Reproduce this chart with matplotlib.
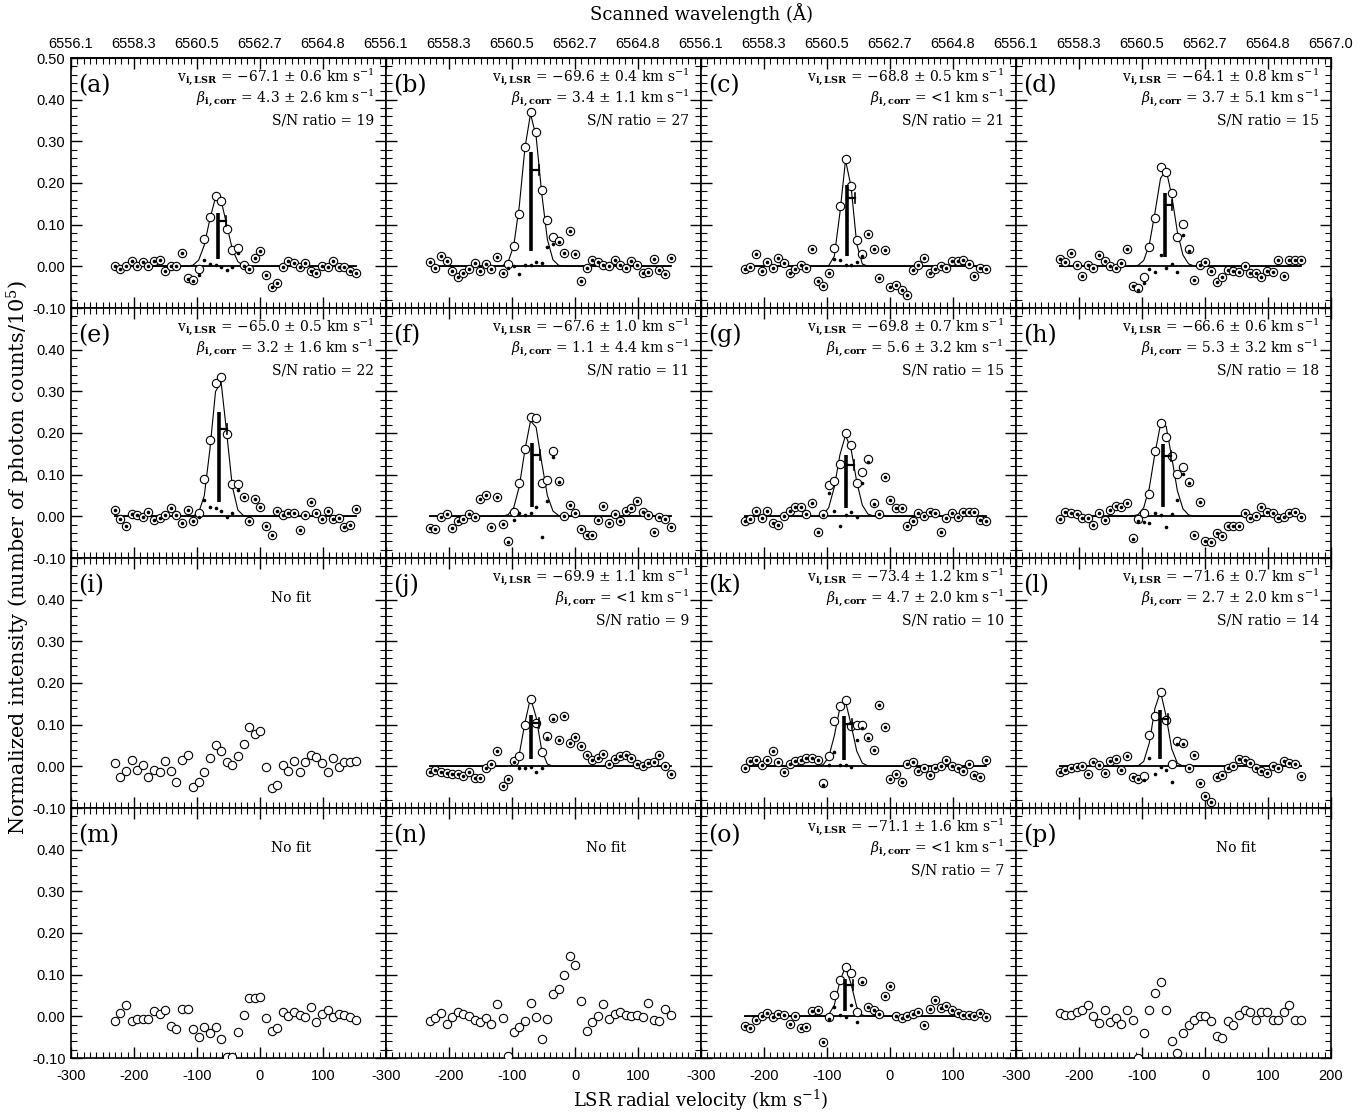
import numpy as np
import matplotlib.pyplot as plt
from matplotlib.ticker import MultipleLocator

plt.rcParams['font.family'] = 'Liberation Sans'
plt.rcParams['mathtext.fontset'] = 'dejavuserif'
plt.rcParams['axes.unicode_minus'] = False
plt.rcParams['axes.linewidth'] = 1.2
SERIF = 'DejaVu Serif'

# LSR velocity of each scan channel (km/s)
vel = np.array([-230.6, -221.7, -212.8, -203.9, -195.0, -186.2, -177.3, -168.4, -159.5, -150.6,
                -141.7, -132.8, -123.9, -115.0, -106.1, -97.3, -88.4, -79.5, -70.6, -61.7,
                -52.8, -43.9, -35.0, -26.1, -17.2, -8.4, 0.5, 9.4, 18.3, 27.2,
                36.1, 45.0, 53.9, 62.8, 71.7, 80.5, 89.4, 98.3, 107.2, 116.1,
                125.0, 133.9, 142.8, 151.7])

# normalized intensity per channel, one list per pointing
flux_a = [0.000, -0.006, 0.000, 0.014, 0.000, 0.011, 0.002, 0.014, 0.015, -0.010,
          0.000, 0.000, 0.031, -0.029, -0.033, -0.006, 0.066, 0.118, 0.168, 0.156,
          0.090, 0.040, 0.044, 0.003, -0.006, 0.019, 0.038, -0.020, -0.050, -0.040,
          -0.002, 0.012, 0.008, -0.002, 0.008, -0.010, -0.017, 0.002, -0.002, 0.014,
          -0.002, -0.002, -0.012, -0.017]
flux_b = [0.010, -0.003, 0.026, 0.014, -0.011, -0.026, -0.015, -0.006, 0.008, -0.012,
          0.006, -0.006, 0.022, -0.015, 0.006, 0.049, 0.126, 0.287, 0.370, 0.322,
          0.184, 0.112, 0.070, 0.062, 0.032, 0.084, 0.029, -0.034, -0.004, 0.015,
          0.010, 0.004, 0.002, 0.015, 0.004, -0.004, 0.014, 0.004, -0.016, -0.013,
          0.018, -0.009, -0.018, 0.020]
flux_c = [-0.006, -0.001, 0.030, -0.012, 0.011, -0.003, 0.019, 0.008, -0.015, -0.006,
          0.004, -0.004, 0.041, -0.034, -0.047, -0.015, 0.043, 0.144, 0.258, 0.194,
          0.064, 0.030, 0.077, 0.042, -0.029, 0.040, -0.049, -0.044, -0.057, -0.068,
          -0.009, 0.004, 0.019, -0.017, -0.006, 0.000, -0.004, 0.012, 0.014, 0.015,
          0.005, -0.023, -0.004, -0.006]
flux_d = [0.018, 0.010, 0.033, 0.004, -0.023, 0.003, -0.003, 0.027, 0.014, 0.000,
          -0.004, 0.007, 0.042, -0.046, -0.053, -0.025, 0.046, 0.115, 0.239, 0.227,
          0.176, 0.070, 0.102, 0.042, -0.033, 0.003, 0.010, -0.012, -0.038, -0.026,
          -0.008, -0.012, -0.013, 0.002, -0.016, -0.016, -0.026, -0.011, -0.013, 0.016,
          -0.022, 0.015, 0.015, 0.015]
flux_e = [0.016, -0.006, -0.022, 0.006, 0.003, -0.002, 0.011, -0.008, -0.004, 0.004,
          0.019, 0.004, -0.016, 0.016, -0.010, 0.008, 0.090, 0.184, 0.320, 0.335,
          0.198, 0.078, 0.078, 0.047, -0.010, 0.042, 0.022, -0.024, -0.044, 0.014,
          0.004, 0.008, 0.008, -0.032, 0.004, 0.035, 0.008, -0.006, 0.012, -0.006,
          -0.005, -0.026, -0.020, 0.018]
flux_f = [-0.028, -0.031, -0.001, 0.006, -0.027, -0.012, -0.007, 0.005, -0.001, 0.041,
          0.051, -0.025, 0.046, -0.018, -0.058, 0.011, 0.079, 0.162, 0.238, 0.235,
          0.079, 0.088, 0.156, 0.085, 0.000, 0.027, 0.009, -0.030, -0.045, -0.045,
          -0.008, 0.026, -0.016, 0.006, -0.010, 0.014, 0.020, 0.037, 0.010, 0.004,
          -0.037, -0.002, -0.006, -0.025]
flux_g = [-0.012, -0.007, 0.014, -0.003, 0.013, -0.015, -0.021, 0.000, 0.012, 0.022,
          0.022, 0.006, 0.033, -0.037, 0.006, 0.076, 0.084, 0.125, 0.199, 0.172,
          0.081, 0.106, 0.137, 0.031, 0.006, 0.094, 0.039, 0.019, 0.019, -0.022,
          -0.010, 0.008, 0.002, 0.010, 0.008, -0.037, -0.004, 0.007, -0.002, 0.010,
          0.011, 0.010, -0.008, -0.011]
flux_h = [-0.006, 0.010, 0.009, 0.006, -0.005, -0.003, -0.020, 0.008, -0.009, 0.016,
          0.025, 0.022, 0.032, -0.053, -0.007, 0.007, 0.053, 0.158, 0.224, 0.190,
          0.146, 0.102, 0.119, 0.083, -0.044, 0.035, -0.058, -0.061, -0.040, -0.046,
          -0.022, -0.022, -0.022, 0.008, -0.005, 0.000, 0.022, 0.010, 0.008, -0.004,
          -0.002, 0.008, 0.010, -0.002]
flux_i = [0.008, -0.026, -0.010, 0.016, -0.009, 0.003, -0.025, -0.009, -0.014, 0.014,
          -0.010, -0.038, 0.016, 0.027, -0.050, -0.038, -0.014, 0.020, 0.051, 0.038,
          0.010, 0.004, 0.024, 0.054, 0.094, 0.078, 0.084, -0.002, -0.052, -0.044,
          0.003, -0.010, 0.014, -0.014, 0.010, 0.027, 0.022, 0.007, -0.014, 0.020,
          -0.002, 0.011, 0.011, 0.014]
flux_j = [-0.013, -0.009, -0.013, -0.015, -0.018, -0.018, -0.023, -0.013, -0.027, -0.027,
          -0.004, 0.006, 0.036, -0.047, -0.031, 0.014, 0.025, 0.100, 0.162, 0.104,
          0.035, 0.074, 0.115, 0.063, 0.120, 0.055, 0.070, 0.048, 0.028, 0.015,
          0.020, 0.030, 0.005, 0.018, 0.025, 0.028, 0.020, 0.005, 0.000, 0.008,
          0.010, 0.028, 0.000, -0.018]
flux_k = [-0.005, 0.012, 0.015, 0.004, 0.015, 0.037, 0.010, -0.013, 0.005, 0.012,
          0.015, 0.020, 0.020, 0.015, -0.040, 0.025, 0.108, 0.145, 0.160, 0.098,
          0.100, 0.100, 0.070, 0.040, 0.148, 0.095, -0.030, -0.018, -0.038, 0.005,
          0.010, -0.012, -0.005, -0.020, -0.005, 0.002, 0.015, 0.000, -0.003, -0.010,
          0.005, -0.020, -0.025, 0.015]
flux_l = [-0.013, -0.008, -0.003, -0.002, 0.000, -0.018, 0.010, 0.004, -0.015, 0.012,
          0.018, -0.008, 0.025, -0.026, -0.030, -0.022, 0.075, 0.120, 0.178, 0.112,
          0.005, 0.060, 0.055, -0.003, 0.028, -0.040, -0.070, -0.085, -0.025, -0.020,
          -0.005, 0.000, 0.018, 0.015, 0.008, -0.005, -0.010, -0.015, 0.000, -0.005,
          0.012, 0.008, 0.005, -0.022]
flux_m = [-0.012, 0.008, 0.027, -0.012, -0.006, -0.006, -0.006, 0.012, 0.006, 0.014,
          -0.022, -0.030, 0.018, 0.018, -0.030, -0.050, -0.025, -0.041, -0.026, -0.054,
          -0.098, -0.097, -0.038, 0.002, 0.043, 0.043, 0.046, -0.004, -0.034, -0.028,
          0.010, 0.000, 0.010, 0.004, -0.002, 0.023, -0.014, 0.006, 0.014, -0.002,
          0.006, 0.004, -0.001, -0.010]
flux_n = [-0.012, -0.004, 0.008, -0.018, -0.002, 0.010, 0.006, 0.000, -0.008, -0.014,
          -0.004, -0.018, 0.030, -0.005, -0.095, -0.038, -0.025, -0.012, 0.031, -0.002,
          -0.054, -0.006, 0.054, 0.066, 0.100, 0.144, 0.122, 0.036, -0.034, -0.014,
          0.000, 0.030, -0.006, 0.006, 0.010, 0.002, 0.000, 0.002, -0.002, 0.031,
          -0.009, -0.012, 0.018, 0.004]
flux_o = [-0.022, -0.028, -0.010, 0.000, 0.008, -0.002, 0.005, 0.003, -0.018, 0.000,
          -0.028, -0.025, 0.012, 0.015, -0.062, -0.002, 0.050, 0.088, 0.118, 0.105,
          0.010, 0.085, 0.022, 0.015, 0.005, 0.048, 0.072, 0.000, -0.005, 0.000,
          0.005, 0.010, -0.020, 0.018, 0.040, 0.020, 0.025, 0.015, 0.008, 0.004,
          0.002, 0.000, 0.008, -0.002]
flux_p = [0.008, 0.004, 0.004, 0.010, 0.016, 0.028, 0.000, -0.016, 0.014, -0.014,
          -0.004, -0.018, 0.015, -0.010, -0.100, -0.040, 0.015, 0.055, 0.082, 0.015,
          -0.060, -0.088, -0.040, -0.020, -0.010, 0.000, 0.000, -0.012, -0.048, -0.052,
          -0.012, -0.020, 0.004, 0.014, 0.010, -0.010, 0.010, 0.010, -0.010, -0.008,
          0.010, 0.028, -0.010, -0.010]

letters = list('abcdefghijklmnop')
fluxes = [flux_a, flux_b, flux_c, flux_d, flux_e, flux_f, flux_g, flux_h,
          flux_i, flux_j, flux_k, flux_l, flux_m, flux_n, flux_o, flux_p]

# single gaussian fit results (None = no fit)
v_lsr = [-67.1, -69.6, -68.8, -64.1, -65.0, -67.6, -69.8, -66.6,
         None, -69.9, -73.4, -71.6, None, None, -71.1, None]
v_err = [0.6, 0.4, 0.5, 0.8, 0.5, 1.0, 0.7, 0.6,
         None, 1.1, 1.2, 0.7, None, None, 1.6, None]
beta_corr = ['4.3 ± 2.6', '3.4 ± 1.1', '<1', '3.7 ± 5.1', '3.2 ± 1.6', '1.1 ± 4.4',
             '5.6 ± 3.2', '5.3 ± 3.2', None, '<1', '4.7 ± 2.0', '2.7 ± 2.0',
             None, None, '<1', None]
sn_ratio = [19, 27, 21, 15, 22, 11, 15, 18, None, 9, 10, 14, None, None, 7, None]
fit_amp = [0.171, 0.367, 0.260, 0.235, 0.334, 0.235, 0.195, 0.230,
           None, 0.165, 0.160, 0.180, None, None, 0.120, None]
fit_sigma = [13.7, 13.8, 9.0, 14.0, 12.0, 13.5, 13.0, 14.0,
             None, 10.0, 12.0, 11.0, None, None, 10.0, None]

vel_ticks = [-300, -200, -100, 0, 100, 200]
wave_labels = ['6556.1', '6558.3', '6560.5', '6562.7', '6564.8', '6567.0']
int_ticks = [-0.10, 0.00, 0.10, 0.20, 0.30, 0.40, 0.50]

W, H = 1368, 1114
x0, y0, pw, ph = 71, 58, 315, 250
fig = plt.figure(figsize=(W / 100, H / 100), dpi=100)

for k in range(16):
    r, c = divmod(k, 4)
    ax = fig.add_axes([(x0 + c * pw) / W, 1 - (y0 + (r + 1) * ph) / H, pw / W, ph / H])
    ax.set_xlim(-300, 200)
    ax.set_ylim(-0.10, 0.50)
    flux = np.array(fluxes[k])

    if v_lsr[k] is not None:
        model = fit_amp[k] * np.exp(-0.5 * ((vel - v_lsr[k]) / fit_sigma[k]) ** 2)
        ax.plot([vel[0], vel[-1]], [0, 0], color='k', lw=1.3, zorder=2)
        ax.plot(vel, model, color='k', lw=0.8, zorder=2)
        ax.plot(vel, flux, 'o', ms=6, mfc='white', mec='k', mew=0.8, zorder=3)
        ax.plot(vel, flux - model, 'o', ms=2.6, color='k', mew=0, zorder=4)
        # line centre marker
        A = fit_amp[k]
        vc = v_lsr[k]
        ax.plot([vc, vc], [0.1 * A, 0.75 * A], color='k', lw=2.6, solid_capstyle='butt', zorder=5)
        ax.plot([vc, vc + 12.5], [0.63 * A, 0.63 * A], color='k', lw=1.6, zorder=5)
        ax.plot([vc + 12.5, vc + 12.5], [0.63 * A - 0.012, 0.63 * A + 0.012], color='k', lw=1.2, zorder=5)

        txt = dict(transform=ax.transAxes, ha='right', va='center', fontsize=10, family=SERIF)
        ax.text(0.962, 0.925, r'v$_{\mathbf{i,LSR}}$ = −%.1f ± %.1f km s$^{-1}$' % (abs(vc), v_err[k]), **txt)
        ax.text(0.962, 0.838, r'$\beta_{\mathbf{i,corr}}$ = %s km s$^{-1}$' % beta_corr[k], **txt)
        ax.text(0.962, 0.750, 'S/N ratio = %d' % sn_ratio[k], **txt)
    else:
        ax.plot(vel, flux, 'o', ms=6, mfc='white', mec='k', mew=0.8, zorder=3)
        ax.text(0.70, 0.838, 'No fit', transform=ax.transAxes, ha='center', va='center',
                fontsize=10, family=SERIF)

    ax.text(0.022, 0.89, '(%s)' % letters[k], transform=ax.transAxes, ha='left', va='center',
            fontsize=17, family=SERIF)

    xlabels = [str(t) for t in vel_ticks]
    if c < 3:
        xlabels[-1] = ''
    ax.set_xticks(vel_ticks, xlabels)
    ylabels = ['%.2f' % t for t in int_ticks]
    if r > 0:
        ylabels[-1] = ''
    ax.set_yticks(int_ticks, ylabels)
    ax.xaxis.set_minor_locator(MultipleLocator(10))
    ax.yaxis.set_minor_locator(MultipleLocator(0.02))
    ax.tick_params(which='both', direction='in', top=True, right=True,
                   labelbottom=(r == 3), labelleft=(c == 0), labelsize=10.5)
    ax.tick_params(axis='x', which='major', pad=8)
    ax.tick_params(axis='y', which='major', pad=4)
    ax.tick_params(which='major', length=8, width=1.0)
    ax.tick_params(which='minor', length=4, width=0.8)

    if r == 0:
        wl = list(wave_labels)
        if c < 3:
            wl[-1] = ''
        top = ax.secondary_xaxis('top')
        top.set_xticks(vel_ticks, wl)
        top.tick_params(length=0, pad=5, labelsize=10.5)

fig.text(701 / W, 1 - 14 / H, 'Scanned wavelength (Å)', ha='center', va='center',
         fontsize=13, family=SERIF)
fig.text(701 / W, 1 - 1100 / H, r'LSR radial velocity (km s$^{-1}$)', ha='center', va='center',
         fontsize=13, family=SERIF)
fig.text(18 / W, 1 - 557 / H, r'Normalized intensity (number of photon counts/10$^5$)',
         ha='center', va='center', rotation=90, fontsize=15, family=SERIF)

fig.savefig('out.png', dpi=100)
